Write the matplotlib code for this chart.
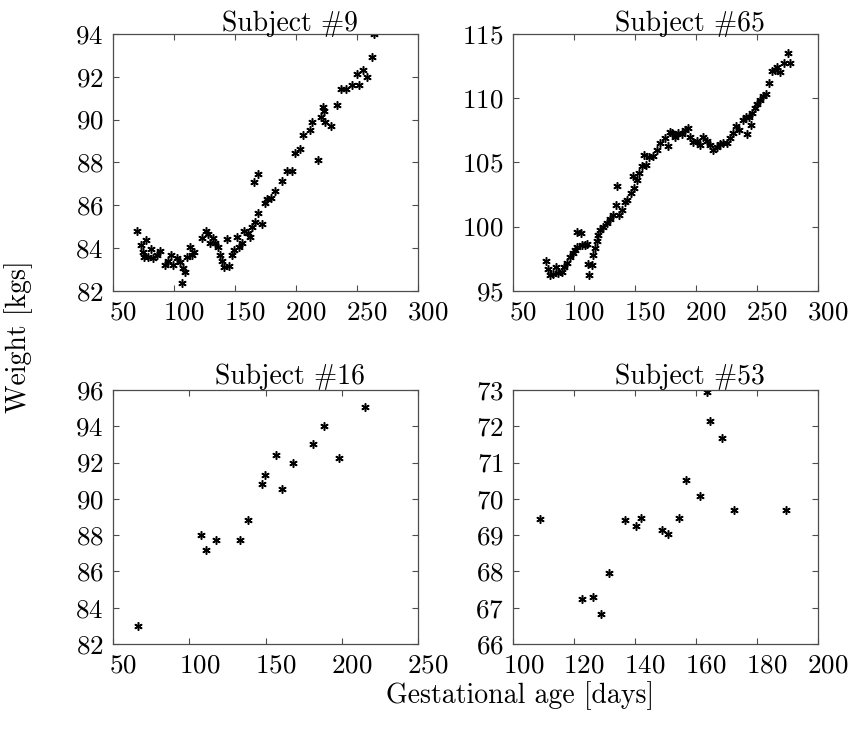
import numpy as np
import matplotlib
matplotlib.use("Agg")
from matplotlib import pyplot as plt
from matplotlib.transforms import ScaledTranslation

plt.rcParams['font.family'] = ['cmr10', 'DejaVu Serif']
plt.rcParams['axes.formatter.use_mathtext'] = True
plt.rcParams['font.size'] = 20

# subject 9
age_9 = [69.2, 72.7, 74.6, 75.5, 76.6, 78.7, 80.7, 82.8, 85.6, 88.3, 92.4, 94.6,
         97.4, 99.3, 102.0, 104.7, 106.7, 107.5, 108.9, 110.2, 113.0, 114.9, 116.5,
         123.1, 125.8, 128.0, 129.4, 132.1, 133.5, 135.7, 137.6, 139.5, 141.2, 143.3,
         145.3, 147.2, 149.4, 151.3, 153.2, 155.4, 157.3, 160.3, 162.2, 163.6, 165.8,
         166.3, 168.5, 169.1, 171.8, 174.6, 176.6, 179.2, 182.5, 188.3, 192.3, 196.5,
         199.2, 203.3, 206.1, 211.5, 212.9, 218.4, 220.3, 222.0, 223.1, 224.2, 229.1,
         233.4, 236.7, 241.1, 246.3, 250.4, 252.0, 255.3, 258.6, 262.5, 264.4]
weight_9 = [84.81, 84.12, 83.79, 83.56, 84.37, 83.56, 83.93, 83.54, 83.67, 83.87, 83.20, 83.40,
            83.67, 83.20, 83.51, 83.36, 82.34, 83.04, 82.89, 83.56, 84.06, 83.67, 83.82,
            84.45, 84.81, 84.65, 84.24, 84.45, 84.21, 84.06, 83.67, 83.40, 83.12, 84.40,
            83.15, 83.67, 83.90, 84.49, 84.06, 84.24, 84.81, 84.71, 84.49, 84.96, 87.10,
            85.20, 87.45, 85.62, 85.12, 86.11, 86.27, 86.32, 86.68, 87.13, 87.59, 87.59,
            88.42, 88.61, 89.28, 89.51, 89.90, 88.11, 90.10, 90.57, 90.42, 89.90, 89.70,
            90.68, 91.41, 91.41, 91.62, 92.11, 91.62, 92.32, 92.00, 92.91, 94.00]

# subject 65
age_65 = [76.9, 78.7, 80.1, 82.9, 85.1, 86.9, 89.7, 91.6, 93.8, 96.5, 98.7, 100.6,
          102.6, 102.6, 105.3, 106.2, 108.9, 110.3, 111.6, 112.4, 114.4, 115.8, 117.1,
          118.5, 119.8, 121.2, 124.0, 126.7, 129.4, 131.6, 134.4, 135.4, 137.1, 139.0,
          141.8, 143.1, 146.4, 148.0, 149.1, 151.3, 153.5, 155.4, 157.3, 159.0, 161.8,
          165.0, 167.8, 170.5, 174.6, 177.3, 178.7, 180.1, 182.8, 185.5, 188.3, 191.0,
          193.7, 195.1, 197.9, 200.6, 203.3, 206.1, 208.8, 211.5, 214.3, 217.0, 219.8,
          222.5, 225.3, 228.0, 230.2, 233.0, 235.7, 238.5, 241.1, 242.3, 243.7, 244.8,
          246.4, 248.4, 250.3, 252.5, 255.2, 257.4, 260.2, 262.1, 264.8, 266.7, 268.9,
          272.2, 275.7, 277.1]
weight_65 = [97.34, 96.66, 96.22, 96.30, 96.87, 96.35, 96.48, 96.87, 97.18, 97.60, 97.91, 98.17,
             98.43, 99.60, 99.47, 98.56, 98.56, 98.64, 97.08, 96.22, 97.00, 97.78, 98.30,
             98.90, 99.34, 99.73, 99.94, 100.25, 100.56, 100.90, 101.68, 103.16, 100.90, 101.29,
             101.94, 102.06, 102.58, 103.94, 102.97, 103.62, 104.14, 104.74, 105.57, 104.79, 105.44,
             105.49, 105.96, 106.48, 106.87, 106.27, 107.39, 107.26, 107.00, 107.26, 107.18, 107.52,
             107.65, 107.00, 106.61, 106.69, 106.35, 107.00, 106.69, 106.35, 105.96, 106.17, 106.43,
             106.48, 106.53, 106.87, 107.26, 107.83, 107.52, 108.30, 108.56, 107.21, 108.56, 107.91,
             108.82, 109.21, 109.55, 109.86, 110.17, 110.32, 111.21, 112.14, 112.19, 112.45, 112.06,
             112.77, 113.49, 112.71]

# subject 16
age_16 = [66.4, 107.6, 110.7, 117.7, 133.4, 138.3, 147.9, 149.9, 156.9, 160.6, 168.1,
          181.2, 188.6, 198.1, 215.6]
weight_16 = [83.0, 88.0, 87.2, 87.75, 87.75, 88.84, 90.8, 91.3, 92.4, 90.55, 92.0,
             93.05, 94.0, 92.25, 95.05]

# subject 53
age_53 = [108.7, 122.6, 126.3, 128.7, 131.5, 136.6, 140.4, 141.8, 148.7, 150.9, 154.5,
          156.8, 161.3, 163.6, 164.7, 168.7, 172.6, 189.7]
weight_53 = [69.45, 67.25, 67.29, 66.82, 67.95, 69.41, 69.25, 69.47, 69.15, 69.03, 69.47,
             70.52, 70.08, 72.95, 72.16, 71.69, 69.70, 69.68]

panels = [
    ('Subject #9', age_9, weight_9, (50, 300), (82, 94), [50, 100, 150, 200, 250, 300], np.arange(82, 95, 2)),
    ('Subject #65', age_65, weight_65, (50, 300), (95, 115), [50, 100, 150, 200, 250, 300], [95, 100, 105, 110, 115]),
    ('Subject #16', age_16, weight_16, (50, 250), (82, 96), [50, 100, 150, 200, 250], np.arange(82, 97, 2)),
    ('Subject #53', age_53, weight_53, (100, 200), (66, 73), [100, 120, 140, 160, 180, 200], np.arange(66, 74)),
]

rects = [
    [0.1330, 0.6034, 0.3573, 0.3502],
    [0.6025, 0.6034, 0.3573, 0.3502],
    [0.1330, 0.1214, 0.3573, 0.3465],
    [0.6025, 0.1214, 0.3573, 0.3465],
]

fig = plt.figure(figsize=(8.52, 7.33), dpi=100)
shift = ScaledTranslation(0.10, 0, fig.dpi_scale_trans)

for i, (name, x, y, xl, yl, xt, yt) in enumerate(panels):
    ax = fig.add_axes(rects[i])
    ax.plot(x, y, linestyle='none', marker=(6, 2, 0), color='k',
            markersize=6, markeredgewidth=1.1)
    ax.set_xlim(xl)
    ax.set_ylim(yl)
    ax.set_xticks(xt)
    ax.set_yticks(yt)
    ax.tick_params(direction='in', top=True, right=True, length=4,
                   color='0.3', pad=7, labelsize=19.5)
    for s in ax.spines.values():
        s.set_color('0.3')
        s.set_linewidth(0.9)
    for lab in ax.get_xticklabels():
        lab.set_transform(lab.get_transform() + shift)
    ty = 1.012 if i < 2 else 1.024
    ax.text(0.58, ty, name, transform=ax.transAxes, ha='center', va='baseline', fontsize=20)

fig.text(0.610, 0.051, 'Gestational age [days]', ha='center', va='center', fontsize=20)
fig.text(0.022, 0.540, 'Weight [kgs]', ha='center', va='center', rotation=90, fontsize=20)

fig.savefig('out.png', dpi=100)
